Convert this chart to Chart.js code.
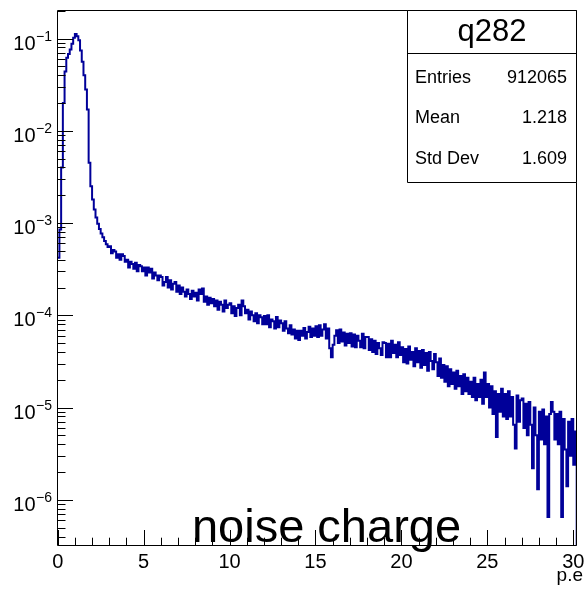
<!DOCTYPE html>
<html><head><meta charset="utf-8">
<script src="https://cdn.jsdelivr.net/npm/chart.js@4/dist/chart.umd.min.js"></script>
<style>html,body{margin:0;padding:0;background:#fff}canvas{display:block}</style>
</head><body>
<canvas id="c" width="585" height="591"></canvas>
<script>
const histName = 'q282';
const statLabels = ['Entries', 'Mean', 'Std Dev'];
const statValues = ['912065', '1.218', '1.609'];
const xTitle = 'p.e';
const chartText = 'noise charge';
const xLow = 0, binWidth = 0.1, xHigh = 30.2;
const xTickValues = [0, 5, 10, 15, 20, 25, 30];
const xTickLabels = ['0', '5', '10', '15', '20', '25', '30'];
const yTickExponents = [-1, -2, -3, -4, -5, -6];
const yMin = 3.18e-7, yMax = 0.2037;
const values = [
4.2e-4,8.5e-4,4.0e-3,2.0e-2,4.4e-2,6.2e-2,6.8e-2,7.6e-2,8.8e-2,1.02e-1,
1.12e-1,1.06e-1,9.6e-2,7.4e-2,5.6e-2,4.0e-2,2.8e-2,1.7e-2,4.5e-3,2.5e-3,
1.8e-3,1.4e-3,1.15e-3,9.8e-4,8.6e-4,7.7e-4,7.0e-4,6.4e-4,5.9e-4,5.5e-4,
5.6e-4,4.7e-4,5.1e-4,4.9e-4,4.2e-4,4.6e-4,4.0e-4,4.6e-4,4.4e-4,3.8e-4,
4.0e-4,3.3e-4,3.8e-4,3.6e-4,3.2e-4,3.7e-4,3.0e-4,3.5e-4,3.4e-4,3.0e-4,
3.3e-4,2.7e-4,3.3e-4,2.9e-4,3.2e-4,2.5e-4,2.9e-4,2.7e-4,2.4e-4,2.7e-4,
2.6e-4,2.1e-4,2.3e-4,2.6e-4,2.0e-4,2.4e-4,1.9e-4,2.2e-4,2.3e-4,1.8e-4,
2.1e-4,1.7e-4,2.0e-4,1.8e-4,1.6e-4,1.9e-4,1.7e-4,1.5e-4,1.85e-4,1.6e-4,
1.75e-4,1.45e-4,1.9e-4,1.7e-4,1.95e-4,1.4e-4,1.6e-4,1.3e-4,1.55e-4,1.35e-4,
1.5e-4,1.25e-4,1.45e-4,1.15e-4,1.4e-4,1.3e-4,1.1e-4,1.45e-4,1.2e-4,1.3e-4,
1.35e-4,1.05e-4,1.25e-4,9.8e-5,1.2e-4,1.3e-4,1.0e-4,1.45e-4,1.25e-4,1.05e-4,
1.15e-4,9.0e-5,1.1e-4,1.0e-4,8.6e-5,1.05e-4,8.2e-5,1.0e-4,9.5e-5,8.0e-5,
9.8e-5,8.0e-5,1.0e-4,7.4e-5,9.0e-5,8.6e-5,7.2e-5,9.6e-5,7.4e-5,8.8e-5,
8.2e-5,6.8e-5,8.6e-5,7.2e-5,6.4e-5,7.8e-5,6.2e-5,7.0e-5,5.6e-5,6.8e-5,
5.4e-5,6.8e-5,6.0e-5,7.3e-5,5.6e-5,6.6e-5,7.5e-5,5.8e-5,7.2e-5,6.0e-5,
7.6e-5,5.8e-5,7.8e-5,6.0e-5,7.0e-5,8.0e-5,5.6e-5,7.2e-5,4.4e-5,3.5e-5,
4.8e-5,6.0e-5,6.9e-5,5.0e-5,7.0e-5,5.2e-5,6.5e-5,4.7e-5,6.3e-5,5.0e-5,
6.4e-5,4.6e-5,6.2e-5,4.5e-5,6.0e-5,5.3e-5,4.5e-5,6.3e-5,4.4e-5,5.8e-5,
5.8e-5,4.2e-5,5.5e-5,4.0e-5,5.3e-5,3.8e-5,5.0e-5,4.4e-5,3.7e-5,5.1e-5,
5.0e-5,3.5e-5,4.9e-5,3.5e-5,5.3e-5,3.9e-5,4.8e-5,3.5e-5,5.1e-5,3.7e-5,
4.5e-5,3.1e-5,4.3e-5,3.0e-5,4.6e-5,3.3e-5,4.0e-5,2.8e-5,4.4e-5,3.1e-5,
4.1e-5,2.7e-5,4.2e-5,2.9e-5,3.9e-5,2.5e-5,4.0e-5,3.2e-5,2.6e-5,3.8e-5,
3.1e-5,2.2e-5,3.4e-5,2.1e-5,2.9e-5,1.9e-5,2.8e-5,1.7e-5,2.6e-5,1.8e-5,
2.4e-5,1.6e-5,2.5e-5,1.7e-5,2.2e-5,1.4e-5,2.3e-5,1.5e-5,2.1e-5,1.4e-5,
1.9e-5,1.3e-5,2.1e-5,1.2e-5,1.8e-5,1.3e-5,2.0e-5,1.1e-5,2.4e-5,1.3e-5,
1.8e-5,1.0e-5,1.7e-5,8.5e-6,1.5e-5,4.8e-6,1.4e-5,9.0e-6,1.6e-5,8.0e-6,
1.4e-5,7.5e-6,1.5e-5,8.0e-6,1.3e-5,6.5e-6,3.6e-6,1.35e-5,7.0e-6,1.2e-5,
1.25e-5,6.0e-6,1.1e-5,5.0e-6,1.15e-5,6.5e-6,2.2e-6,1.0e-5,5.0e-6,1.3e-6,
9.0e-6,4.5e-6,9.5e-6,4.0e-6,8.0e-6,6.5e-7,8.5e-6,1.15e-5,9.0e-6,4.5e-6,
8.5e-6,4.0e-6,9.0e-6,6.5e-7,7.5e-6,3.5e-6,1.4e-6,7.0e-6,3.0e-6,7.5e-6,2.4e-6,5.5e-6
];

const FONT = '"Liberation Sans", Arial, Helvetica, sans-serif';
const points = values.map((v, i) => ({ x: xLow + i * binWidth, y: v }));
points.push({ x: xLow + values.length * binWidth, y: yMin });

const rootPlugin = {
  id: 'rootFrame',
  beforeDraw(chart) {
    const c = chart.ctx; c.save(); c.fillStyle = '#fff'; c.fillRect(0, 0, chart.width, chart.height); c.restore();
  },
  afterDatasetsDraw(chart) {
    const ctx = chart.ctx, a = chart.chartArea, xs = chart.scales.x, ys = chart.scales.y;
    const L = Math.floor(a.left) + 0.5, R = Math.floor(a.right) + 0.5, T = Math.floor(a.top) + 0.5, B = Math.floor(a.bottom) + 0.5;
    ctx.save();
    ctx.strokeStyle = '#000'; ctx.lineWidth = 1;
    ctx.beginPath();
    ctx.moveTo(L, T); ctx.lineTo(R, T); ctx.lineTo(R, B); ctx.lineTo(L, B); ctx.closePath();
    for (let v = 0; v <= 30; v++) {
      const px = Math.round(xs.getPixelForValue(v)) + 0.5;
      const len = v % 5 === 0 ? 15.5 : 7.8;
      ctx.moveTo(px, B); ctx.lineTo(px, B - len);
    }
    for (let e = -7; e <= 0; e++) {
      for (let k = 1; k <= 9; k++) {
        const v = k * Math.pow(10, e);
        if (v < yMin || v > yMax) continue;
        const py = Math.round(ys.getPixelForValue(v)) + 0.5;
        const len = k === 1 ? 15.5 : 8;
        ctx.moveTo(L, py); ctx.lineTo(L + len, py);
      }
    }
    ctx.stroke();

    ctx.fillStyle = '#000';
    ctx.font = '20px ' + FONT; ctx.textAlign = 'center'; ctx.textBaseline = 'alphabetic';
    xTickValues.forEach((v, i) => ctx.fillText(xTickLabels[i], xs.getPixelForValue(v), 568));
    yTickExponents.forEach(e => {
      const py = ys.getPixelForValue(Math.pow(10, e));
      const expText = '\u2212' + Math.abs(e);
      ctx.font = '14px ' + FONT; ctx.textAlign = 'right';
      const ew = ctx.measureText(expText).width;
      ctx.fillText(expText, 52, py + 2);
      ctx.font = '20px ' + FONT;
      ctx.fillText('10', 52 - ew - 0.5, py + 11);
    });
    ctx.font = '19px ' + FONT; ctx.textAlign = 'right';
    ctx.fillText(xTitle, 583, 581);

    const bx0 = 407.5, by0 = 10.5, bx1 = R, by1 = 182.5, sep = 53.5;
    ctx.fillStyle = '#fff'; ctx.fillRect(bx0, by0, bx1 - bx0, by1 - by0);
    ctx.strokeStyle = '#000'; ctx.beginPath();
    ctx.rect(bx0, by0, bx1 - bx0, by1 - by0);
    ctx.moveTo(bx0, sep); ctx.lineTo(bx1, sep);
    ctx.stroke();
    ctx.fillStyle = '#000';
    ctx.font = '31px ' + FONT; ctx.textAlign = 'center';
    ctx.fillText(histName, (bx0 + bx1) / 2, 41);
    ctx.font = '18px ' + FONT;
    const rowY = [83, 123, 164];
    statLabels.forEach((s, i) => {
      ctx.textAlign = 'left'; ctx.fillText(s, 415, rowY[i]);
      ctx.textAlign = 'right'; ctx.fillText(statValues[i], 567, rowY[i]);
    });

    ctx.font = '47px ' + FONT; ctx.textAlign = 'center';
    ctx.fillText(chartText, 326.5, 542);
    ctx.restore();
  }
};

new Chart(document.getElementById('c'), {
  type: 'line',
  data: {
    datasets: [{
      data: points,
      stepped: 'before',
      borderColor: '#000099',
      borderWidth: 2,
      pointRadius: 0,
      fill: false,
      tension: 0
    }]
  },
  options: {
    responsive: false,
    animation: false,
    devicePixelRatio: 1,
    layout: { padding: { left: 57.7, right: 8.3, top: 10, bottom: 45.3 } },
    plugins: { legend: { display: false }, tooltip: { enabled: false }, title: { display: false } },
    scales: {
      x: { type: 'linear', min: xLow, max: xHigh, display: false },
      y: { type: 'logarithmic', min: yMin, max: yMax, display: false }
    }
  },
  plugins: [rootPlugin]
});
</script>
</body></html>
